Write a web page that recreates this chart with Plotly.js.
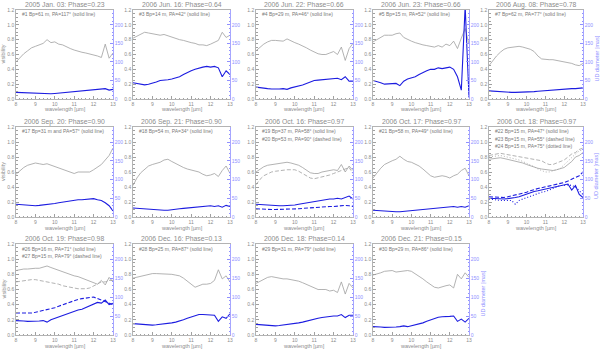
<!DOCTYPE html>
<html><head><meta charset="utf-8">
<script src="https://cdn.plot.ly/plotly-3.0.1.min.js"></script>
<style>html,body{margin:0;padding:0;background:#fff}#c{width:600px;height:350px}</style>
</head><body><div id="c"></div>
<script>
const wavelength=[8.0,8.2,8.4,8.6,8.8,9.0,9.2,9.4,9.6,9.8,10.0,10.2,10.4,10.6,10.8,11.0,11.2,11.4,11.6,11.8,12.0,12.2,12.4,12.6,12.8,13.0];

const panelTitles=["2005 Jan. 03: Phase=0.23","2006 Jun. 16: Phase=0.64","2006 Jun. 22: Phase=0.66","2006 Jun. 23: Phase=0.66","2006 Aug. 08: Phase=0.78",
"2006 Sep. 20: Phase=0.90","2006 Sep. 21: Phase=0.90","2006 Oct. 16: Phase=0.97","2006 Oct. 17: Phase=0.97","2006 Oct. 18: Phase=0.97",
"2006 Oct. 19: Phase=0.98","2006 Dec. 16: Phase=0.13","2006 Dec. 18: Phase=0.14","2006 Dec. 21: Phase=0.15"];

const panelLegends=[
["#1 Bp=61 m, PA=117° (solid line)"],
["#3 Bp=14 m, PA=42° (solid line)"],
["#4 Bp=29 m, PA=46° (solid line)"],
["#5 Bp=15 m, PA=52° (solid line)"],
["#7 Bp=62 m, PA=77° (solid line)"],
["#17 Bp=31 m and PA=57° (solid line)"],
["#18 Bp=54 m, PA=34° (solid line)"],
["#19 Bp=37 m, PA=58° (solid line)","#20 Bp=53 m, PA=90° (dashed line)"],
["#21 Bp=58 m, PA=49° (solid line)"],
["#22 Bp=15 m, PA=47° (solid line)","#23 Bp=15 m, PA=55° (dashed line)","#24 Bp=15 m, PA=75° (dotted line)"],
["#26 Bp=16 m, PA=71° (solid line)","#27 Bp=15 m, PA=79° (dashed line)"],
["#28 Bp=25 m, PA=87° (solid line)"],
["#29 Bp=31 m, PA=79° (solid line)"],
["#30 Bp=29 m, PA=86° (solid line)"]];

const visTicks=[0,0.2,0.4,0.6,0.8,1.0,1.2];
const diamTicks=[0,50,100,150,200];
const waveTicks=[8,9,10,11,12,13];

// visibility (left axis) and UD diameter in mas (right axis)
const visP1=[0.50,0.56,0.61,0.65,0.69,0.71,0.73,0.75,0.80,0.76,0.77,0.74,0.73,0.70,0.68,0.66,0.64,0.63,0.62,0.61,0.60,0.58,0.56,0.74,0.55,0.62];
const diamP1=[18,17.6,17,16,15.6,15,14.4,14,13.6,14,15,16,17,18,19,20,21,22,23,24,24,25,26,28,24,26];
const visP2=[0.82,0.85,0.88,0.90,0.89,0.88,0.87,0.86,0.87,0.85,0.83,0.82,0.80,0.79,0.77,0.76,0.75,0.73,0.73,0.72,0.74,0.76,0.79,0.90,0.83,0.86];
const diamP2=[44,42,39,38,40,42,46,50,50,52,54,56,60,66,72,76,80,84,86,88,86,88,84,60,76,66];
const visP3=[0.65,0.70,0.74,0.77,0.79,0.79,0.78,0.78,0.81,0.78,0.76,0.74,0.72,0.69,0.66,0.63,0.61,0.60,0.60,0.62,0.64,0.60,0.70,0.52,0.68,0.75];
const diamP3=[32,30,29,28,27,26,27,28,26,30,32,34,38,42,46,50,51,52,52,54,54,56,52,60,48,48];
const visP4=[0.77,0.80,0.84,0.86,0.86,0.86,0.88,0.89,0.83,0.80,0.78,0.76,0.74,0.73,0.72,0.71,0.70,0.72,0.70,0.74,0.72,0.78,0.68,0.82,0.95,0.74];
const diamP4=[50,48,44,40,40,42,42,36,48,54,56,60,66,72,76,80,80,84,82,84,86,80,60,24,250,4];
const visP5=[0.45,0.52,0.58,0.63,0.67,0.69,0.70,0.71,0.71,0.70,0.69,0.67,0.64,0.58,0.54,0.53,0.53,0.53,0.52,0.52,0.51,0.50,0.48,0.46,0.45,0.48];
const diamP5=[22,21,20,19,18.4,18,18,18,18,18,18,19,20,21,22,23,24,24.4,25,26,26,27,28,28,29,30];
const visP6=[0.57,0.62,0.66,0.69,0.71,0.72,0.71,0.70,0.71,0.69,0.67,0.65,0.63,0.61,0.59,0.58,0.60,0.60,0.61,0.60,0.63,0.66,0.70,0.76,0.82,0.92];
const diamP6=[34,33,32,31,30,30,31,32,33,34,36,38,40,42,44,44,46,46,47,48,49,46,44,38,30,16];
const visP7=[0.42,0.52,0.59,0.64,0.68,0.70,0.71,0.73,0.76,0.77,0.74,0.71,0.68,0.66,0.64,0.63,0.62,0.60,0.57,0.55,0.56,0.58,0.54,0.62,0.68,0.58];
const diamP7=[24,23,22,21,20,20,19,18,18,18,20,21,22,23,24,25,26,26,28,28,30,28,30,26,31,28];
const visP8a=[0.60,0.64,0.67,0.69,0.70,0.70,0.71,0.72,0.73,0.72,0.71,0.69,0.66,0.62,0.59,0.58,0.58,0.60,0.61,0.62,0.63,0.62,0.70,0.60,0.68,0.62];
const visP8b=[0.43,0.50,0.55,0.58,0.60,0.61,0.62,0.63,0.63,0.63,0.63,0.61,0.58,0.54,0.52,0.51,0.52,0.53,0.54,0.56,0.58,0.60,0.62,0.64,0.66,0.58];
const diamP8a=[34,33,32,31,30,30,30,30,30,31,32,34,36,38,40,42,44,46,47,48,48,50,48,52,56,48];
const diamP8b=[22,21,20,20,20,20,20,20,20,20,21,22,23,24,25,26,26,27,27,28,28,29,30,31,30,28];
const visP9=[0.52,0.59,0.65,0.70,0.73,0.75,0.77,0.81,0.77,0.74,0.73,0.71,0.68,0.64,0.59,0.55,0.53,0.54,0.55,0.54,0.52,0.55,0.57,0.62,0.65,0.55];
const diamP9=[18,17,16,15,14,14,14,14,15,16,17,18,19,20,21,22,23,24,25,26,26,28,26,28,26,30];
const visP10a=[0.77,0.78,0.79,0.79,0.78,0.77,0.76,0.75,0.74,0.72,0.70,0.68,0.66,0.65,0.64,0.63,0.62,0.62,0.63,0.64,0.66,0.70,0.74,0.80,0.82,0.86];
const visP10b=[0.82,0.83,0.84,0.85,0.84,0.83,0.83,0.82,0.81,0.80,0.79,0.78,0.77,0.76,0.75,0.72,0.70,0.70,0.72,0.74,0.76,0.80,0.84,0.86,0.90,0.92];
const visP10c=[0.80,0.81,0.82,0.82,0.81,0.80,0.79,0.78,0.76,0.74,0.72,0.70,0.67,0.64,0.62,0.60,0.60,0.61,0.63,0.65,0.70,0.74,0.80,0.84,0.88,0.90];
const diamP10a=[50,49,48,48,48,49,50,52,54,58,60,64,68,70,72,74,76,80,82,84,84,88,72,84,60,52];
const diamP10b=[54,53,52,52,52,54,56,58,60,64,66,70,74,76,78,80,82,84,86,90,92,96,100,104,110,120];
const diamP10c=[48,46,44,44,44,44,44,34,44,48,52,56,60,64,66,68,72,76,80,84,84,86,84,80,70,60];
const visP11a=[0.85,0.86,0.87,0.87,0.88,0.88,0.88,0.89,0.91,0.89,0.87,0.85,0.83,0.81,0.79,0.78,0.77,0.75,0.73,0.71,0.69,0.67,0.72,0.66,0.76,0.70];
const visP11b=[0.70,0.71,0.72,0.73,0.73,0.73,0.72,0.72,0.71,0.70,0.69,0.67,0.65,0.64,0.63,0.62,0.61,0.61,0.61,0.62,0.65,0.68,0.70,0.70,0.72,0.72];
const diamP11a=[38,38,37,36,36,36,37,38,34,40,44,48,52,56,60,62,66,68,72,76,80,86,84,92,80,84];
const diamP11b=[58,58,58,58,58,60,62,64,66,68,72,76,80,84,88,90,94,96,98,100,100,96,92,88,84,80];
const visP12=[0.75,0.76,0.78,0.79,0.80,0.81,0.81,0.81,0.80,0.80,0.80,0.79,0.78,0.75,0.71,0.67,0.63,0.65,0.67,0.67,0.68,0.72,0.86,0.74,0.78,0.70];
const diamP12=[30,29,28,27,26,26,27,28,29,30,32,34,36,40,44,48,52,54,54,54,54,52,36,48,44,56];
const visP13=[0.68,0.71,0.74,0.76,0.77,0.76,0.75,0.74,0.74,0.73,0.73,0.71,0.69,0.67,0.64,0.62,0.60,0.60,0.60,0.58,0.59,0.56,0.70,0.54,0.68,0.62];
const diamP13=[28,27,26,25,24,24,25,26,28,29,30,32,34,37,40,42,44,46,48,49,50,50,54,46,52,52];
const visP14=[0.79,0.80,0.82,0.84,0.85,0.85,0.83,0.84,0.85,0.85,0.84,0.81,0.78,0.74,0.70,0.66,0.63,0.62,0.64,0.65,0.66,0.62,0.80,0.74,0.82,0.76];
const diamP14=[22,22,21,20,20,20,21,22,24,22,24,26,29,32,36,40,44,47,48,48,49,50,36,42,34,44];

const panelVis=[[visP1],[visP2],[visP3],[visP4],[visP5],[visP6],[visP7],[visP8a,visP8b],[visP9],[visP10a,visP10b,visP10c],[visP11a,visP11b],[visP12],[visP13],[visP14]];
const panelDiam=[[diamP1],[diamP2],[diamP3],[diamP4],[diamP5],[diamP6],[diamP7],[diamP8a,diamP8b],[diamP9],[diamP10a,diamP10b,diamP10c],[diamP11a,diamP11b],[diamP12],[diamP13],[diamP14]];

// layout geometry (pixels)
const W=600,H=350;
const colX=[[16,113],[133,230],[256,353],[373,469],[489,583]];
const rowY=[[10,99],[127,217],[244,335]];
const dashes=['solid','4px,2px','1px,2px'];
const FONT='Liberation Sans, Arial, sans-serif';
const GRAY='#a0a0a0', TXT='#8c8c8c', LBLUE='#9090ff';

const data=[];
const layout={width:W,height:H,margin:{l:0,r:0,t:0,b:0},showlegend:false,
  paper_bgcolor:'#fff',plot_bgcolor:'#fff',font:{family:FONT,size:6,color:TXT},annotations:[]};
const N=panelTitles.length;
for(let i=0;i<N;i++){
  const col=i%5,row=Math.floor(i/5);
  const [x0,x1]=colX[col],[y0,y1]=rowY[row];
  const xa='x'+(i+1), ya='y'+(i+1), ya2='y'+(i+1+N);
  const xk='xaxis'+(i+1), yk='yaxis'+(i+1), yk2='yaxis'+(i+1+N);
  layout[xk]={domain:[x0/W,x1/W],anchor:ya,range:[8,13],tickvals:waveTicks,ticktext:waveTicks.map(String),
    ticks:'inside',ticklen:3,tickcolor:GRAY,showline:true,linecolor:GRAY,linewidth:0.8,mirror:true,showgrid:false,zeroline:false,
    tickfont:{size:5,color:TXT},minor:{ticks:'inside',ticklen:1.5,dtick:0.2,tickcolor:GRAY}};
  layout[yk]={domain:[1-y1/H,1-y0/H],anchor:xa,range:[0,1.2],tickvals:visTicks,ticktext:visTicks.map(v=>v.toFixed(1)),
    ticks:'inside',ticklen:3,tickcolor:GRAY,showline:true,linecolor:GRAY,linewidth:0.8,showgrid:false,zeroline:false,
    tickfont:{size:5,color:TXT},minor:{ticks:'inside',ticklen:1.5,dtick:0.05,tickcolor:GRAY}};
  layout[yk2]={overlaying:ya,anchor:xa,side:'right',range:[0,240],tickvals:diamTicks,ticktext:diamTicks.map(String),
    ticks:'inside',ticklen:3,tickcolor:LBLUE,showline:true,linecolor:LBLUE,linewidth:0.8,showgrid:false,zeroline:false,
    tickfont:{size:5,color:LBLUE},minor:{ticks:'inside',ticklen:1.5,dtick:10,tickcolor:LBLUE}};
  panelVis[i].forEach((v,k)=>data.push({x:wavelength,y:v,xaxis:xa,yaxis:ya,type:'scatter',mode:'lines',
    line:{color:GRAY,width:0.8,dash:dashes[k]},hoverinfo:'skip'}));
  panelDiam[i].forEach((v,k)=>data.push({x:wavelength,y:v,xaxis:xa,yaxis:ya2,type:'scatter',mode:'lines',
    line:{color:'#1c1ce0',width:1.1,dash:dashes[k]},hoverinfo:'skip'}));
  const cx=(x0+x1)/2/W;
  layout.annotations.push({xref:'paper',yref:'paper',x:cx,y:1-(y0-5.5)/H,text:panelTitles[i],showarrow:false,
    xanchor:'center',yanchor:'middle',font:{size:6.8,color:TXT,family:FONT}});
  panelLegends[i].forEach((t,k)=>layout.annotations.push({xref:'paper',yref:'paper',x:(x0+4)/W,y:1-(y0+4.5+k*7.2)/H,text:t,showarrow:false,
    xanchor:'left',yanchor:'middle',font:{size:5,color:'#7a7a7a',family:FONT}}));
  layout.annotations.push({xref:'paper',yref:'paper',x:cx,y:1-(y1+10.5)/H,text:'wavelength [µm]',showarrow:false,
    xanchor:'center',yanchor:'middle',font:{size:5.5,color:TXT,family:FONT}});
  if(col===0) layout.annotations.push({xref:'paper',yref:'paper',x:3/W,y:1-((y0+y1)/2)/H,text:'visibility',showarrow:false,
    textangle:-90,xanchor:'center',yanchor:'middle',font:{size:5.5,color:TXT,family:FONT}});
  if(col===4||i===N-1) layout.annotations.push({xref:'paper',yref:'paper',x:(x1+13)/W,y:1-((y0+y1)/2+4)/H,text:'UD diameter [mas]',showarrow:false,
    textangle:-90,xanchor:'center',yanchor:'middle',font:{size:5.5,color:LBLUE,family:FONT}});
}
Plotly.newPlot('c',data,layout,{staticPlot:true,displayModeBar:false});
</script></body></html>
